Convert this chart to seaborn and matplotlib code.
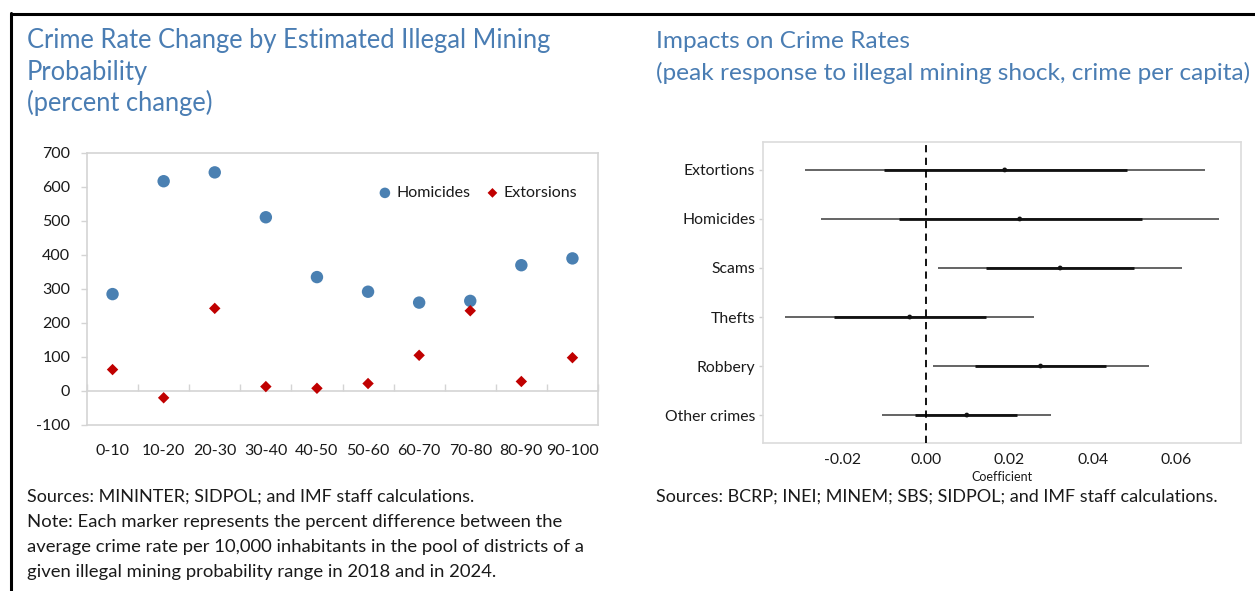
import matplotlib
matplotlib.use("Agg")
import matplotlib.pyplot as plt
from matplotlib.lines import Line2D
import seaborn as sns
import numpy as np
import pandas as pd

# ---------------- data ----------------
ranges = ["0-10", "10-20", "20-30", "30-40", "40-50", "50-60", "60-70", "70-80", "80-90", "90-100"]
homicides = [285, 617, 643, 511, 335, 292, 260, 265, 370, 390]
extorsions = [63, -20, 243, 13, 8, 22, 105, 236, 28, 98]

crimes = ["Extortions", "Homicides", "Scams", "Thefts", "Robbery", "Other crimes"]
coef = [0.0189, 0.0225, 0.0322, -0.0039, 0.0275, 0.0098]
ci90_lo = [-0.0101, -0.0064, 0.0144, -0.0220, 0.0118, -0.0026]
ci90_hi = [0.0482, 0.0518, 0.0500, 0.0144, 0.0433, 0.0219]
ci95_lo = [-0.0290, -0.0252, 0.0029, -0.0338, 0.0016, -0.0105]
ci95_hi = [0.0670, 0.0703, 0.0614, 0.0260, 0.0536, 0.0299]

x_ticks_r = [-0.02, 0.00, 0.02, 0.04, 0.06]
y_ticks_l = [-100, 0, 100, 200, 300, 400, 500, 600, 700]

# ---------------- style ----------------
sns.set_theme(style="white")
plt.rcParams["font.family"] = ["Lato", "DejaVu Sans"]
plt.rcParams["axes.unicode_minus"] = False

TITLE_C = "#4a7db3"
BLUE = "#4a80b2"
RED = "#c00000"
FRAME = "#d4d4d4"
TXT = "#1a1a1a"

fig = plt.figure(figsize=(12.55, 5.91), dpi=100)
W, H = 1255, 591

def fx(px):
    return px / W

def fy(py):
    return 1 - py / H

# ---------------- left chart ----------------
axL = fig.add_axes([fx(87), fy(425), fx(598) - fx(87), fy(153) - fy(425)])
dfL = pd.DataFrame({"range": ranges, "Homicides": homicides, "Extorsions": extorsions})
sns.scatterplot(data=dfL, x="range", y="Homicides", ax=axL, color=BLUE, marker="o",
                s=80, edgecolor="none", label="Homicides", zorder=3)
sns.scatterplot(data=dfL, x="range", y="Extorsions", ax=axL, color=RED, marker="D",
                s=34, edgecolor="none", label="Extorsions", zorder=3)
axL.set_xlim(-0.5, len(ranges) - 0.5)
axL.set_ylim(-100, 700)
axL.set_yticks(y_ticks_l)
axL.set_xticks(range(len(ranges)))
axL.set_xticklabels(ranges)
axL.set_xlabel("")
axL.set_ylabel("")
for sp in axL.spines.values():
    sp.set_color(FRAME)
    sp.set_linewidth(1.2)
axL.tick_params(axis="y", which="major", length=4, color=FRAME, width=1, labelsize=11.5,
                labelcolor=TXT, pad=8, left=True)
axL.tick_params(axis="x", which="major", length=0, labelsize=11.5, labelcolor=TXT, pad=14)
# zero line with category-boundary tick marks
sec = axL.secondary_xaxis(100 / 800)
sec.set_xticks(np.arange(len(ranges) + 1) - 0.5)
sec.tick_params(axis="x", direction="in", length=5, color=FRAME, width=1, labelbottom=False,
                labeltop=False, labelsize=1)
sec.set_xticklabels([])
sec.spines["bottom"].set_color(FRAME)
sec.spines["bottom"].set_linewidth(1.2)
leg = axL.legend(loc="center right", bbox_to_anchor=(0.975, 0.853), ncol=2, frameon=False,
                 fontsize=11.5, handletextpad=0.1, columnspacing=0.8, markerscale=0.85,
                 borderpad=0, handlelength=1.2)
for t in leg.get_texts():
    t.set_color(TXT)

# ---------------- right chart ----------------
axR = fig.add_axes([fx(763), fy(443), fx(1241) - fx(763), fy(142) - fy(443)])
ypos = np.arange(len(crimes))
dfR = pd.DataFrame({"crime": crimes, "y": ypos, "coef": coef,
                    "lo95": ci95_lo, "hi95": ci95_hi, "lo90": ci90_lo, "hi90": ci90_hi})
axR.hlines(dfR["y"], dfR["lo95"], dfR["hi95"], color="#4a4a4a", linewidth=1.2, zorder=2)
axR.hlines(dfR["y"], dfR["lo90"], dfR["hi90"], color="#111111", linewidth=2.0, zorder=3)
sns.scatterplot(data=dfR, x="coef", y="y", ax=axR, color="#111111", marker="o", s=12,
                edgecolor="none", zorder=4, legend=False)
axR.axvline(0, color="#000000", linestyle=(0, (4, 3)), linewidth=1.3, zorder=5)
axR.set_xlim(-0.0391, 0.0756)
axR.set_ylim(len(crimes) - 1 + 0.57, -0.57)
axR.set_yticks(ypos)
axR.set_yticklabels(crimes)
axR.set_xticks(x_ticks_r)
axR.set_xticklabels([f"{v:.2f}" for v in x_ticks_r])
axR.set_ylabel("")
axR.set_xlabel("Coefficient", fontsize=9, color=TXT, labelpad=3)
for sp in axR.spines.values():
    sp.set_color("#dcdcdc")
    sp.set_linewidth(1.2)
axR.tick_params(axis="y", length=3, color="#cfcfcf", width=1, labelsize=11.3, labelcolor=TXT,
                pad=2.5, left=True)
axR.tick_params(axis="x", length=0, labelsize=11.3, labelcolor=TXT, pad=7)

# ---------------- titles / notes ----------------
tkwL = dict(color=TITLE_C, fontsize=18.4, va="baseline", ha="left")
tkwR = dict(color=TITLE_C, fontsize=17.6, va="baseline", ha="left")
fig.text(fx(27), fy(48), "Crime Rate Change by Estimated Illegal Mining", **tkwL)
fig.text(fx(27), fy(80), "Probability", **tkwL)
fig.text(fx(27), fy(111), "(percent change)", **tkwL)
fig.text(fx(656), fy(48), "Impacts on Crime Rates", **tkwR)
fig.text(fx(656), fy(80), "(peak response to illegal mining shock, crime per capita)", **tkwR)

nkw = dict(color=TXT, fontsize=13, va="baseline", ha="left")
fig.text(fx(27), fy(502), "Sources: MININTER; SIDPOL; and IMF staff calculations.", **nkw)
nkw2 = dict(color=TXT, fontsize=13.3, va="baseline", ha="left")
fig.text(fx(27), fy(527), "Note: Each marker represents the percent difference between the", **nkw2)
fig.text(fx(27), fy(552), "average crime rate per 10,000 inhabitants in the pool of districts of a", **nkw2)
fig.text(fx(27), fy(577), "given illegal mining probability range in 2018 and in 2024.", **nkw2)
fig.text(fx(656), fy(502), "Sources: BCRP; INEI; MINEM; SBS; SIDPOL; and IMF staff calculations.", **nkw)

# frame lines
fig.add_artist(Line2D([fx(10.5), 1.0], [fy(14), fy(14)], color="black", linewidth=2.2))
fig.add_artist(Line2D([fx(11.5), fx(11.5)], [fy(13), 0.0], color="black", linewidth=2.2))

fig.savefig("out.png", dpi=100)
